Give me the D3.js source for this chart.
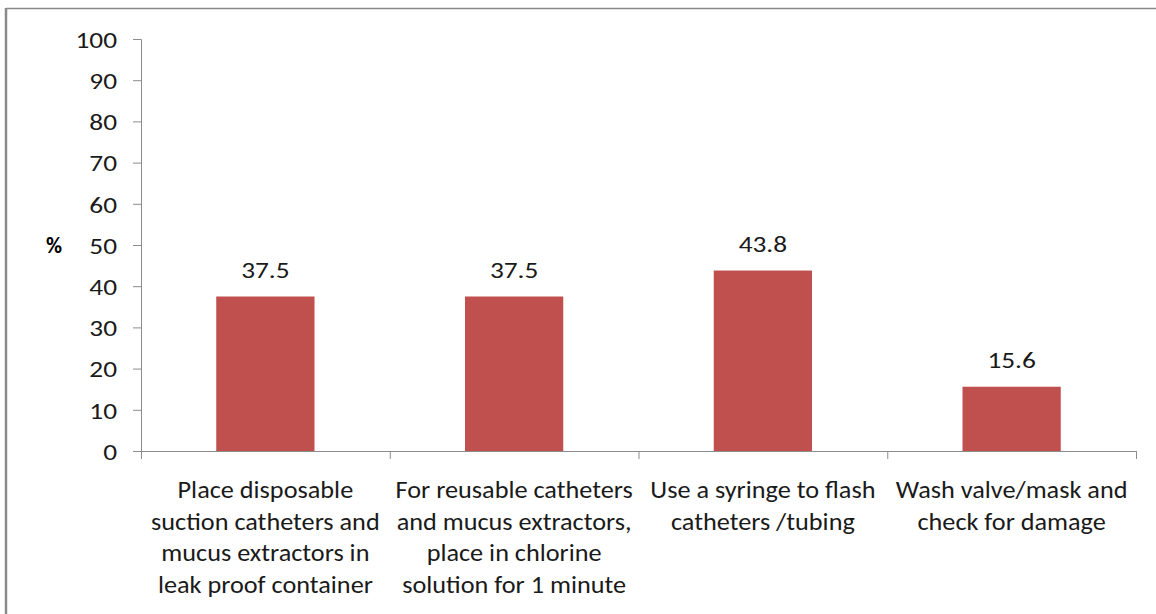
<!DOCTYPE html>
<html>
<head>
<meta charset="utf-8">
<script src="https://cdn.jsdelivr.net/npm/d3@7"></script>
<style>
  html, body { margin: 0; padding: 0; background: #fff; }
  svg { display: block; font-family: Carlito, Calibri, Lato, sans-serif; }
</style>
</head>
<body>
<svg id="chart" width="1156" height="614"></svg>
<script>
// category labels, already broken into lines as in the original
const categories = [
  ["Place disposable", "suction catheters and", "mucus extractors in", "leak proof container"],
  ["For reusable catheters", "and mucus extractors,", "place in chlorine", "solution for 1 minute"],
  ["Use a syringe to flash", "catheters /tubing"],
  ["Wash valve/mask and", "check for damage"]
];
const values = [37.5, 37.5, 43.8, 15.6];
const yTicks = [0, 10, 20, 30, 40, 50, 60, 70, 80, 90, 100];

const svg = d3.select("#chart");
const margin = { left: 141, right: 20, top: 39, bottom: 163 };
const width = 1136 - margin.left;
const height = 451 - margin.top;
const numStretch = 1.19; // the original numbers look a bit wide

// outer frame (only top and left edges show in the picture)
svg.append("line")
  .attr("x1", 6).attr("y1", 8.5).attr("x2", 1156).attr("y2", 8.5)
  .attr("stroke", "#8a8a8a").attr("stroke-width", 1.5);
svg.append("line")
  .attr("x1", 6).attr("y1", 8).attr("x2", 6).attr("y2", 614)
  .attr("stroke", "#8a8a8a").attr("stroke-width", 2.5);

const g = svg.append("g").attr("transform", `translate(${margin.left},${margin.top})`);

const x = d3.scaleBand()
  .domain(d3.range(categories.length))
  .range([0, width])
  .paddingInner(0.605)
  .paddingOuter(0.3025);

const y = d3.scaleLinear().domain([0, 100]).range([height, 0]);

// y axis
const yAxis = g.append("g")
  .call(d3.axisLeft(y).tickValues(yTicks).tickSize(8).tickPadding(16));
yAxis.attr("font-family", null).attr("font-size", null);
yAxis.select(".domain").attr("stroke", "#8c8c8c").attr("d", `M-8,0.5H0.5V${height + 0.5}`);
yAxis.selectAll(".tick line").attr("stroke", "#8c8c8c");
yAxis.selectAll(".tick text")
  .attr("fill", "#1a1a1a")
  .style("font-size", "23px")
  .attr("x", -24 / numStretch)
  .attr("transform", `scale(${numStretch},1)`)
  .attr("dy", "0.36em");

// x axis: ticks at category boundaries
const step = width / categories.length;
const xb = g.append("g").attr("transform", `translate(0,${height})`);
xb.append("line")
  .attr("x1", 0).attr("x2", width).attr("y1", 0.5).attr("y2", 0.5)
  .attr("stroke", "#8c8c8c");
xb.selectAll("line.tk")
  .data(d3.range(categories.length + 1))
  .join("line")
  .attr("class", "tk")
  .attr("x1", d => d * step + 0.5).attr("x2", d => d * step + 0.5)
  .attr("y1", 0).attr("y2", 8)
  .attr("stroke", "#8c8c8c");

// bars
g.selectAll("rect.bar")
  .data(values)
  .join("rect")
  .attr("class", "bar")
  .attr("x", (d, i) => x(i))
  .attr("width", x.bandwidth())
  .attr("y", d => y(d))
  .attr("height", d => height - y(d))
  .attr("fill", "#c0504d");

// value labels
g.selectAll("text.val")
  .data(values)
  .join("text")
  .attr("class", "val")
  .attr("transform", (d, i) => `translate(${x(i) + x.bandwidth() / 2},${y(d) - 19}) scale(${numStretch},1)`)
  .attr("text-anchor", "middle")
  .attr("fill", "#1a1a1a")
  .style("font-size", "23px")
  .text(d => d.toFixed(1));

// category labels
const cl = g.selectAll("text.cat")
  .data(categories)
  .join("text")
  .attr("class", "cat")
  .attr("text-anchor", "middle")
  .attr("fill", "#1a1a1a")
  .style("font-size", "25px")
  .attr("transform", (d, i) => `translate(${x(i) + x.bandwidth() / 2},${height + 47}) scale(1.05,1)`);
cl.selectAll("tspan")
  .data(d => d)
  .join("tspan")
  .attr("x", 0)
  .attr("y", (d, i) => i * 31.6)
  .text(d => d);

// y axis title
svg.append("text")
  .attr("x", 54)
  .attr("y", 253)
  .attr("text-anchor", "middle")
  .attr("fill", "#000")
  .style("font-size", "22px")
  .style("font-weight", "bold")
  .text("%");
</script>
</body>
</html>
